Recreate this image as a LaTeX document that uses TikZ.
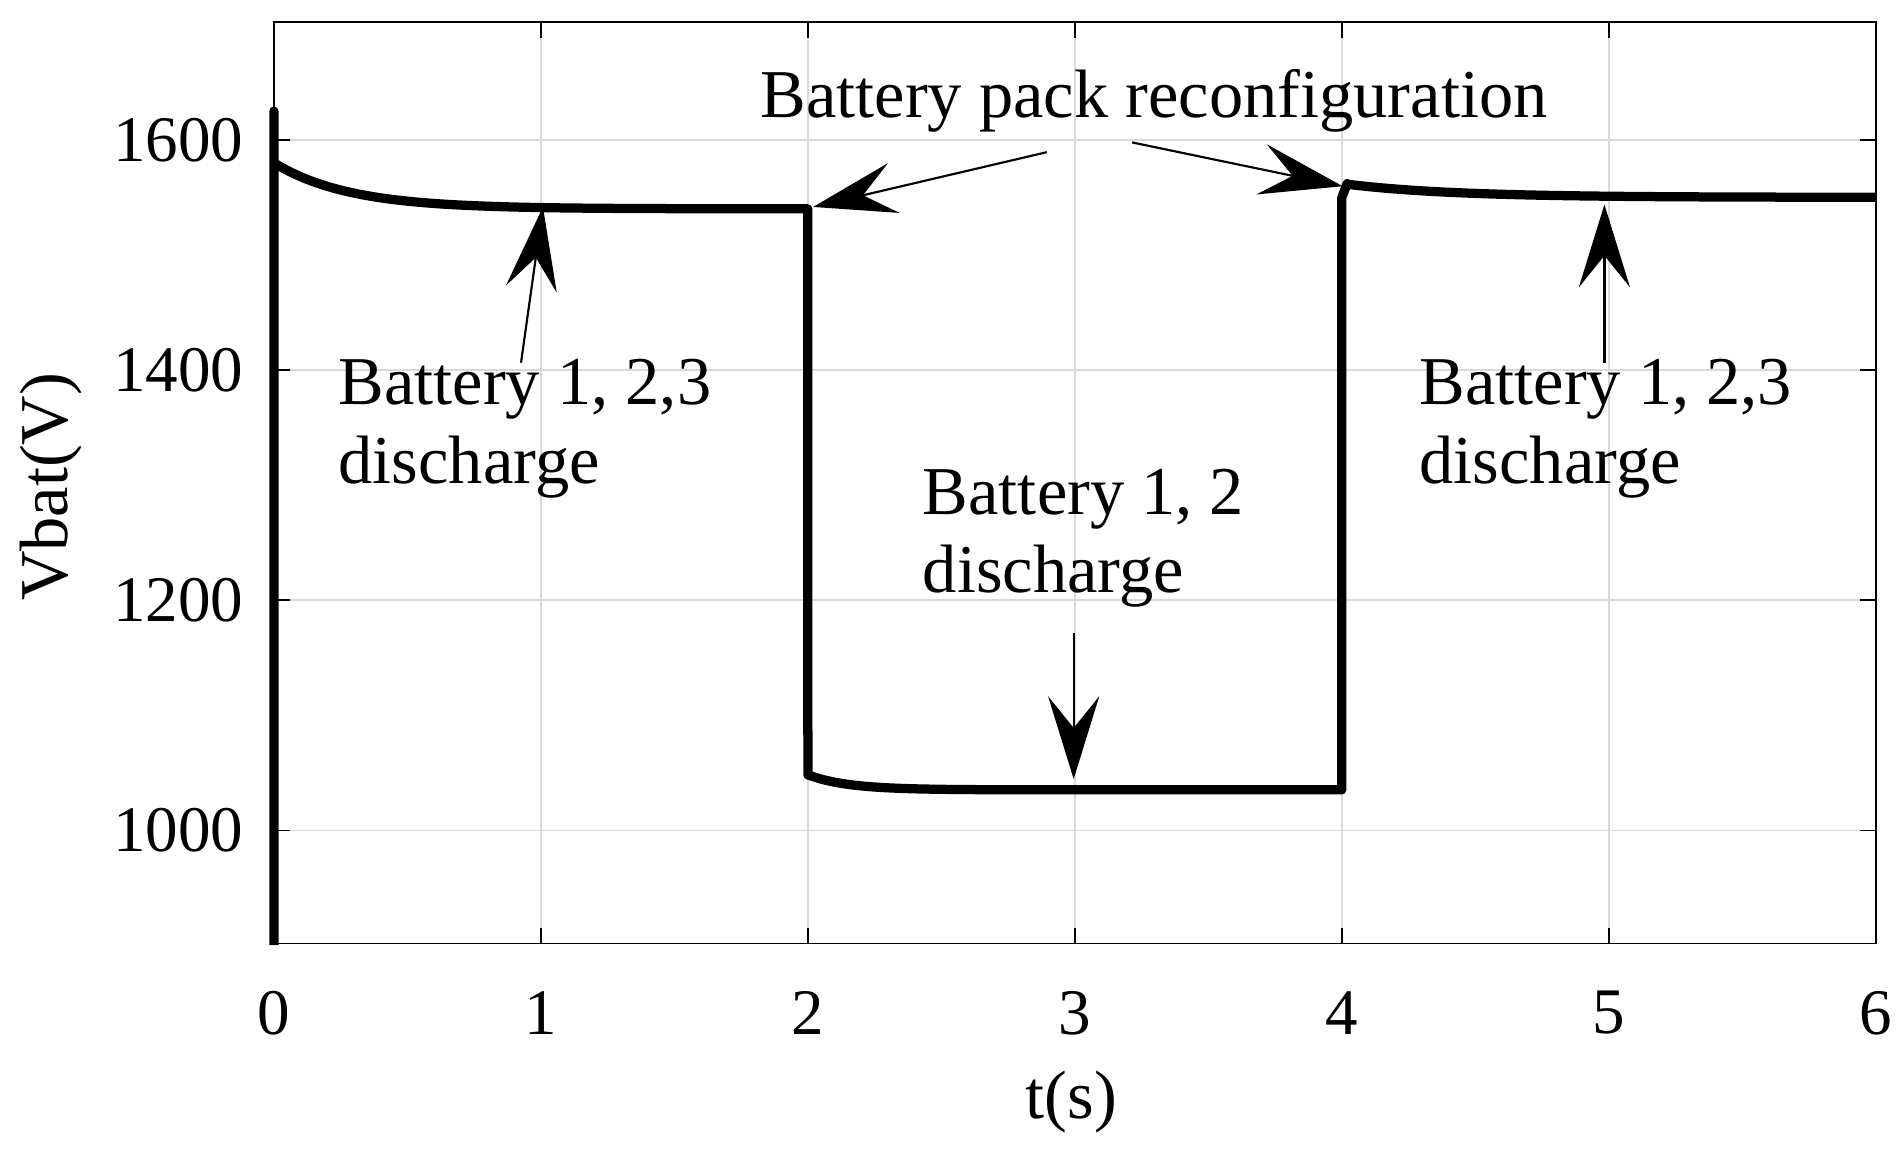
\documentclass[tikz,border=0pt]{standalone}
\usepackage{fontspec}
\setmainfont{Liberation Serif}
\usetikzlibrary{arrows.meta}
\begin{document}
\begin{tikzpicture}[x=0.05cm,y=0.05cm,
  lbl/.style={font=\fontsize{80}{92}\selectfont,inner sep=0pt},
  tick/.style={font=\fontsize{76}{88}\selectfont,inner sep=0pt},
  ann/.style={line width=2.5pt,-{Triangle[length=3.4cm,width=2.1cm,inset=1.3cm]}},
  curve/.style={line width=0.38cm,line join=round}]
\useasboundingbox (0,0) rectangle (1560,-948);
% grid
\foreach \i in {1,...,5}{\draw[gray!30,line width=1.5pt] ({225+219.33*\i},-18) -- ({225+219.33*\i},-775);}
\foreach \v in {1000,1200,1400,1600}{\draw[gray!30,line width=1.5pt] (225,{-(115+(1600-\v)*0.945)}) -- (1541,{-(115+(1600-\v)*0.945)});}
% ticks
\foreach \i in {0,...,6}{
  \draw[line width=1.5pt] ({225+219.33*\i},-775) -- ({225+219.33*\i},-762);
  \draw[line width=1.5pt] ({225+219.33*\i},-18) -- ({225+219.33*\i},-31);
  \node[tick] (xt\i) at ({225+219.33*\i},-832) {\i};}
\foreach \v in {1000,1200,1400,1600}{
  \draw[line width=1.5pt] (225,{-(115+(1600-\v)*0.945)}) -- (238,{-(115+(1600-\v)*0.945)});
  \draw[line width=1.5pt] (1541,{-(115+(1600-\v)*0.945)}) -- (1528,{-(115+(1600-\v)*0.945)});
  \node[tick,anchor=east] (yt\v) at (200,{-(115+(1600-\v)*0.945)}) {\v};}
\draw[line width=2pt] (225,-18) rectangle (1541,-775);
% curve
\begin{scope}[shift={(225,-1627)},x=10.967cm,y=0.04725cm]
\draw[curve] (0,900) -- (0,1625) -- (0,1580)
  -- plot[domain=0:2,samples=60,smooth] (\x,{1540+40*exp(-\x/0.28)}) -- (2,1048)
  -- plot[domain=2:4,samples=40,smooth] (\x,{1035+13*exp(-(\x-2)/0.15)}) -- (4,1036) -- (4.0,1550)
  -- (4.02,1562) -- plot[domain=4.02:6,samples=50,smooth] (\x,{1550+12*exp(-(\x-4)/0.4)});
\end{scope}
% labels
\node[lbl] (tlab) at (880,-905) {t(s)};
\node[lbl,rotate=90] (ylab) at (42,-400) {Vbat(V)};
\node[lbl] (rec) at (948,-83) {Battery pack reconfiguration};
\node[lbl,anchor=north west,align=left] (b1) at (278,-295) {Battery 1, 2,3\\discharge};
\node[lbl,anchor=north west,align=left] (b2) at (758,-385) {Battery 1, 2\\discharge};
\node[lbl,anchor=north west,align=left] (b3) at (1166,-295) {Battery 1, 2,3\\discharge};
% arrow endpoints
\coordinate (r1) at (860,-125); \coordinate (r1e) at (668,-170);
\coordinate (r2) at (930,-117); \coordinate (r2e) at (1103,-153);
\coordinate (a1) at (428,-298); \coordinate (a1e) at (446,-170);
\coordinate (a2) at (882,-520); \coordinate (a2e) at (882,-640);
\coordinate (a3) at (1318,-298); \coordinate (a3e) at (1318,-168);
\draw[ann] (r1) -- (r1e);
\draw[ann] (r2) -- (r2e);
\draw[ann] (a1) -- (a1e);
\draw[ann] (a2) -- (a2e);
\draw[ann] (a3) -- (a3e);
\end{tikzpicture}
\end{document}
